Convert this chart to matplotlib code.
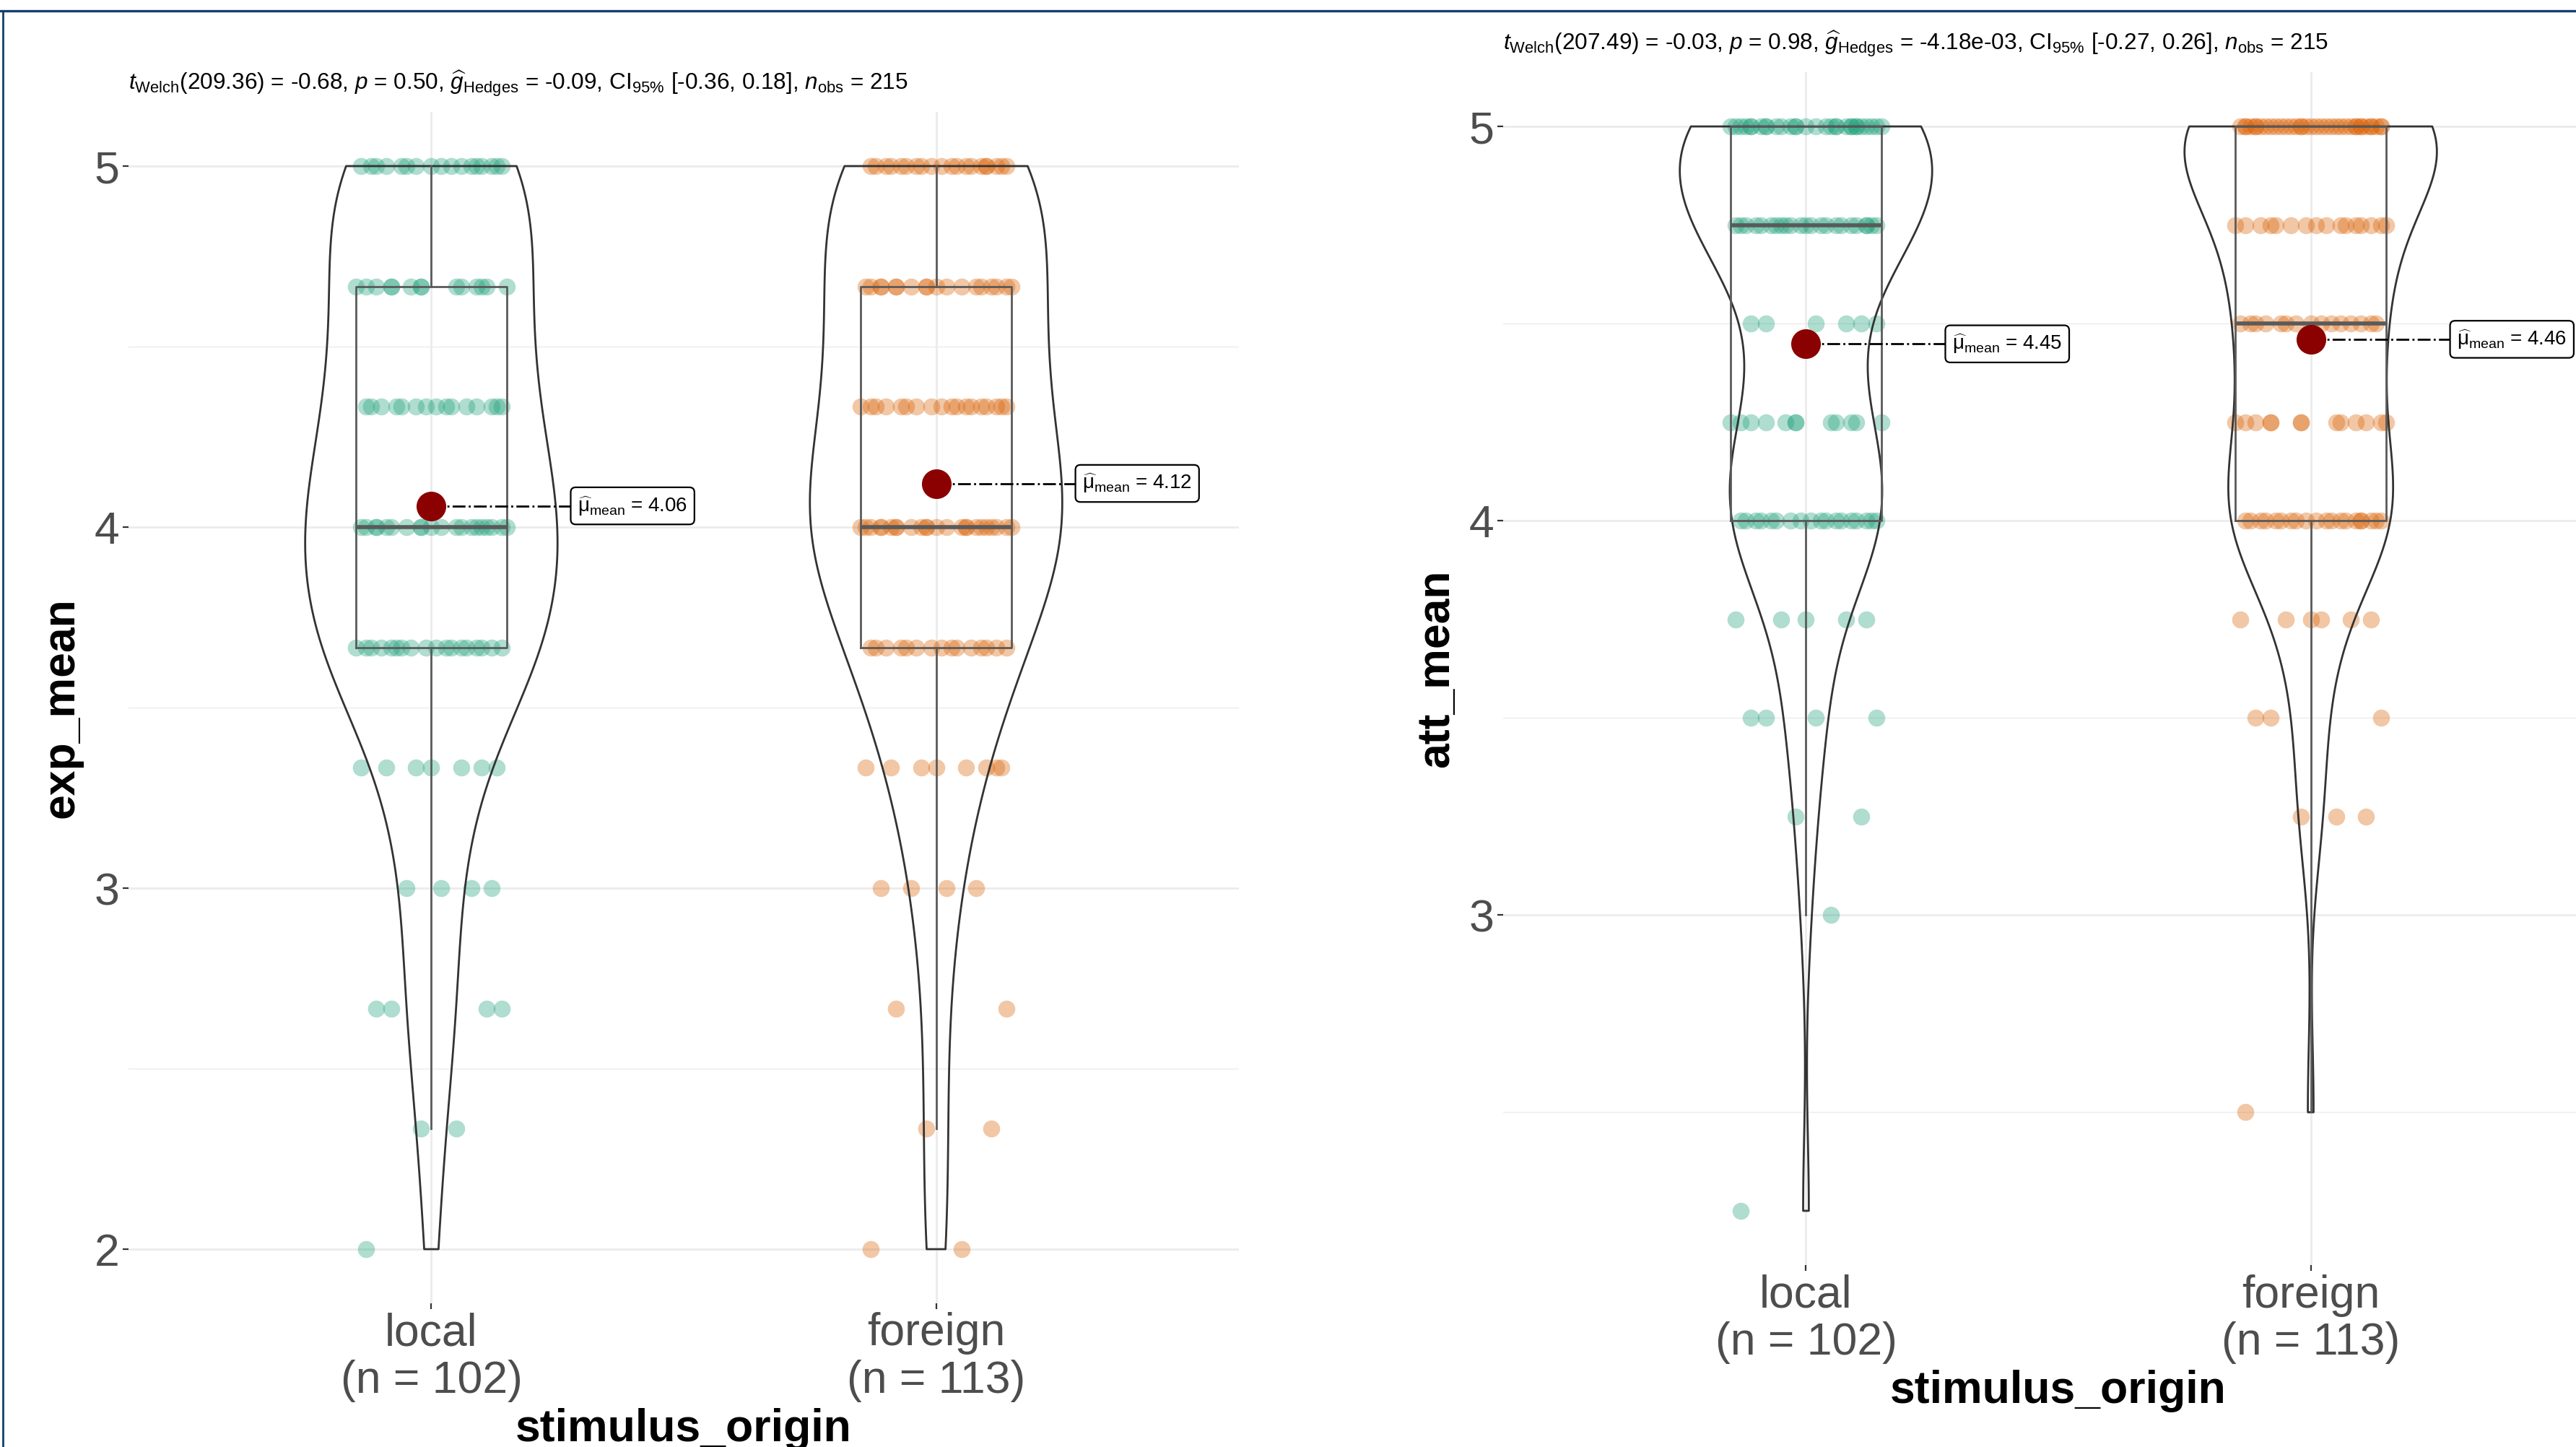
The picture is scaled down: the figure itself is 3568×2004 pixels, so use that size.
import numpy as np
import matplotlib.pyplot as plt
from matplotlib.lines import Line2D
from matplotlib.ticker import MultipleLocator, FormatStrFormatter

plt.rcParams['font.family'] = 'Liberation Sans'
plt.rcParams['mathtext.fontset'] = 'custom'
plt.rcParams['mathtext.rm'] = 'Liberation Sans'
plt.rcParams['mathtext.it'] = 'Liberation Sans:italic'
plt.rcParams['mathtext.bf'] = 'Liberation Sans:bold'

# DATA
groups = ["local", "foreign"]

# exp_mean: answer levels (mean of 3 items) and how many people gave each
exp_levels = [2, 7/3, 8/3, 3, 10/3, 11/3, 4, 13/3, 14/3, 5]
exp_local_counts = [1, 2, 4, 4, 7, 18, 20, 15, 14, 17]
exp_foreign_counts = [2, 2, 2, 4, 8, 15, 24, 18, 18, 20]

# att_mean: answer levels (mean of 4 items)
att_levels = [2.25, 2.5, 2.75, 3, 3.25, 3.5, 3.75, 4, 4.25, 4.5, 4.75, 5]
att_local_counts = [1, 0, 0, 1, 2, 4, 5, 18, 12, 6, 23, 30]
att_foreign_counts = [0, 1, 0, 0, 3, 3, 6, 20, 13, 15, 16, 36]

exp_subtitle = (r"$\mathit{t}_{\mathrm{Welch}}$(209.36) = -0.68, $\mathit{p}$ = 0.50, "
                r"$\widehat{\mathit{g}}_{\mathrm{Hedges}}$ = -0.09, CI$_{\mathrm{95\%}}$ [-0.36, 0.18], "
                r"$\mathit{n}_{\mathrm{obs}}$ = 215")
att_subtitle = (r"$\mathit{t}_{\mathrm{Welch}}$(207.49) = -0.03, $\mathit{p}$ = 0.98, "
                r"$\widehat{\mathit{g}}_{\mathrm{Hedges}}$ = -4.18e-03, CI$_{\mathrm{95\%}}$ [-0.27, 0.26], "
                r"$\mathit{n}_{\mathrm{obs}}$ = 215")

# styling
colors = ["#1B9E77", "#D95F02"]
JITTER = [-0.13, 0.05, -0.02, 0.11, -0.08, 0.14, -0.11, 0.02, 0.08, -0.05,
          0.12, -0.14, 0.0, 0.06, -0.09, 0.10, -0.03, 0.13, -0.12, 0.04,
          -0.06, 0.09, -0.10, 0.01, 0.14, -0.07, 0.07, -0.01, 0.12, -0.13,
          0.03, -0.04, 0.10, -0.15, 0.06, -0.08, 0.15, -0.02, 0.09, -0.11]
W, H = 3568, 2004


def draw_panel(ax, levels, counts_list, ylabel, subtitle):
    data = [np.repeat(levels, c) for c in counts_list]
    for i, vals in enumerate(data):
        pos = i + 1
        n = len(vals)
        sd = vals.std(ddof=1)
        q1, q3 = np.percentile(vals, [25, 75])
        bw = 0.9 * min(sd, (q3 - q1) / 1.34) * n ** -0.2

        # jittered raw points
        xs = pos + np.array([JITTER[k % len(JITTER)] for k in range(n)])
        ax.scatter(xs, vals, s=72, color=colors[i], alpha=0.35, lw=0, zorder=2)

        # violin
        vp = ax.violinplot(vals, positions=[pos], widths=0.5, showextrema=False,
                           bw_method=bw / sd, points=300)
        for b in vp['bodies']:
            b.set_facecolor('none')
            b.set_edgecolor('#333333')
            b.set_linewidth(1.0)
            b.set_alpha(1)
            b.set_zorder(3)

        # box
        ax.boxplot(vals, positions=[pos], widths=0.3, showfliers=False, showcaps=False,
                   whis=1.5, manage_ticks=False,
                   boxprops=dict(color='#5a5a5a', lw=1.0),
                   whiskerprops=dict(color='#5a5a5a', lw=1.0),
                   medianprops=dict(color='#5a5a5a', lw=2.0),
                   zorder=3)

        # mean point + label
        m = vals.mean()
        ax.plot([pos, pos + 0.28], [m, m], linestyle='-.', color='black', lw=1.0, zorder=4)
        ax.scatter([pos], [m], s=190, color='#8B0000', zorder=5)
        ax.text(pos + 0.29, m, r"$\widehat{\mathrm{\mu}}_{\mathrm{mean}}$ = " + f"{m:.2f}",
                ha='left', va='center', fontsize=10, color='black', zorder=6,
                bbox=dict(boxstyle='round,pad=0.35,rounding_size=0.25', fc='white',
                          ec='black', lw=0.8))

    lo = min(v.min() for v in data)
    hi = max(v.max() for v in data)
    ax.set_ylim(lo - 0.05 * (hi - lo), hi + 0.05 * (hi - lo))
    ax.set_xlim(0.4, 2.6)
    ax.set_xticks([1, 2])
    ax.set_xticklabels([f"{g}\n(n = {len(v)})" for g, v in zip(groups, data)])
    for t in ax.get_xticklabels():
        t.set_linespacing(1.15)
    ax.yaxis.set_major_locator(MultipleLocator(1))
    ax.yaxis.set_minor_locator(MultipleLocator(0.5))
    ax.yaxis.set_major_formatter(FormatStrFormatter('%g'))

    ax.grid(True, which='major', color='#EBEBEB', lw=1.0)
    ax.grid(True, which='minor', axis='y', color='#EBEBEB', lw=0.5)
    ax.set_axisbelow(True)
    for s in ax.spines.values():
        s.set_visible(False)
    ax.tick_params(which='major', length=3, width=0.8, color='#333333',
                   labelcolor='#4D4D4D', labelsize=22.5, pad=1.5)
    ax.tick_params(which='minor', length=0)

    ax.set_ylabel(ylabel, fontsize=22.5, fontweight='bold', color='black')
    ax.yaxis.set_label_coords(-0.041, 0.5)
    ax.set_xlabel("stimulus_origin", fontsize=22.5, fontweight='bold', color='black')
    ax.xaxis.set_label_coords(0.5, -0.088)
    ax.set_title(subtitle, loc='left', fontsize=11.35, pad=11)


fig = plt.figure(figsize=(W / 200, H / 200), dpi=200)

ax1 = fig.add_axes([178 / W, 199 / H, 1538 / W, 1650 / H])
draw_panel(ax1, exp_levels, [exp_local_counts, exp_foreign_counts], "exp_mean", exp_subtitle)

ax2 = fig.add_axes([2082 / W, 252 / H, 1538 / W, 1652 / H])
draw_panel(ax2, att_levels, [att_local_counts, att_foreign_counts], "att_mean", att_subtitle)

# navy frame of the screenshot
fig.add_artist(Line2D([0, 1], [1 - 15 / H, 1 - 15 / H], transform=fig.transFigure,
                      color='#12406E', lw=1.2))
fig.add_artist(Line2D([4 / W, 4 / W], [0, 1 - 15 / H], transform=fig.transFigure,
                      color='#12406E', lw=1.0))

fig.savefig("out.png", dpi=200)
